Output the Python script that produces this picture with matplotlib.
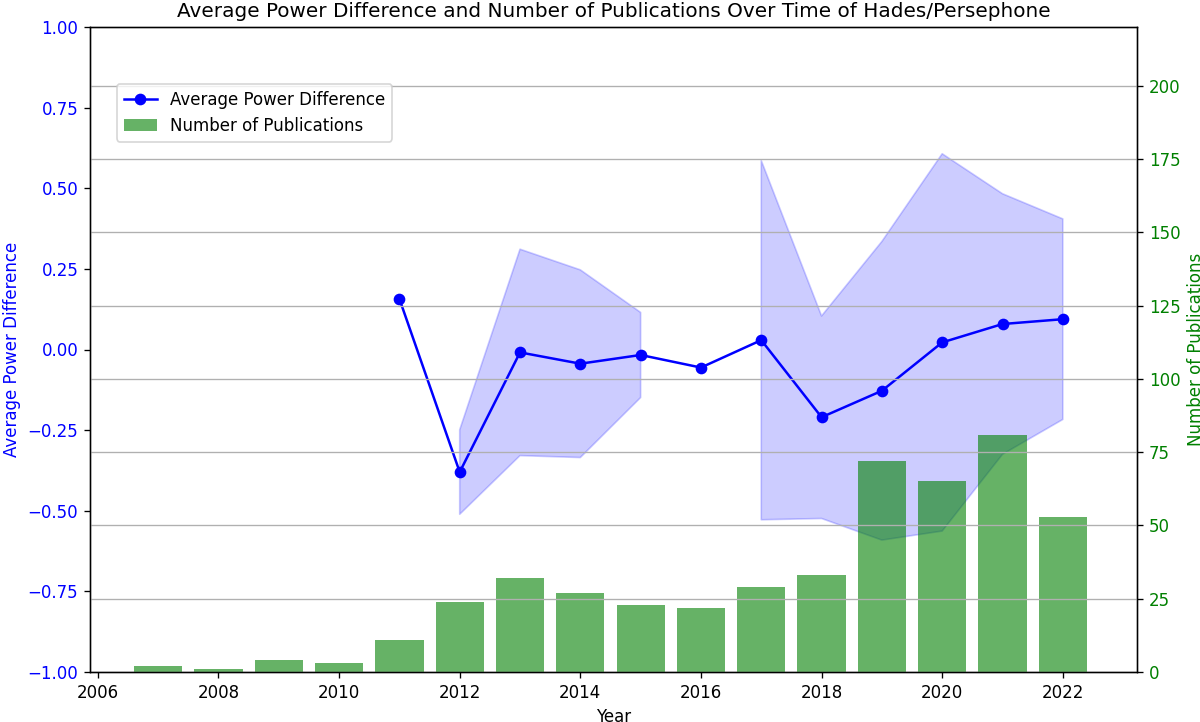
import numpy as np
import matplotlib
matplotlib.use('Agg')
import matplotlib.pyplot as plt

pub_years = [2007, 2008, 2009, 2010, 2011, 2012, 2013, 2014, 2015,
             2016, 2017, 2018, 2019, 2020, 2021, 2022]
pub_counts = [2, 1, 4, 3, 11, 24, 32, 27, 23, 22, 29, 33, 72, 65, 81, 53]

power_years = [2011, 2012, 2013, 2014, 2015, 2016, 2017, 2018, 2019, 2020, 2021, 2022]
power_mean = [0.157, -0.38, -0.009, -0.044, -0.017, -0.056, 0.029,
              -0.210, -0.128, 0.022, 0.079, 0.094]
power_std = [np.nan, 0.131, 0.320, 0.291, 0.132, np.nan, 0.557,
             0.314, 0.463, 0.585, 0.404, 0.311]

mean = np.array(power_mean)
std = np.array(power_std)

fig, ax1 = plt.subplots(figsize=(10, 722/120), dpi=120)
fig.subplots_adjust(left=90/1200, right=1137/1200, top=1 - 27/722, bottom=1 - 672/722)

line, = ax1.plot(power_years, power_mean, color='blue', marker='o',
                 label='Average Power Difference')
ax1.fill_between(power_years, mean - std, mean + std, color='blue', alpha=0.2)
ax1.set_ylim(-1, 1)
ax1.set_xlabel('Year')
ax1.set_ylabel('Average Power Difference', color='blue')
ax1.tick_params(axis='y', labelcolor='blue')

ax2 = ax1.twinx()
bars = ax2.bar(pub_years, pub_counts, color='green', alpha=0.6,
               label='Number of Publications')
ax2.set_ylim(0, 220)
ax2.set_ylabel('Number of Publications', color='green')
ax2.tick_params(axis='y', labelcolor='green')
ax2.grid(True)

ax1.set_xlim(2005.87, 2023.23)

ax1.set_title('Average Power Difference and Number of Publications Over Time of Hades/Persephone')

ax2.legend([line, bars], ['Average Power Difference', 'Number of Publications'],
           loc='upper left', bbox_to_anchor=(108.7/1200, 1 - 75.7/722),
           bbox_transform=fig.transFigure)

fig.savefig('out.png')
